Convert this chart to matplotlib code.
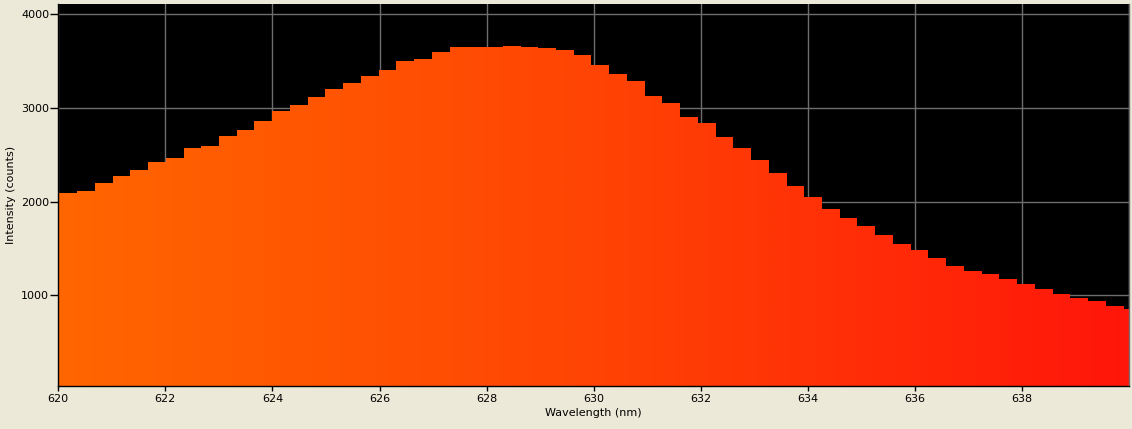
import numpy as np
import matplotlib
matplotlib.use('Agg')
import matplotlib.pyplot as plt
from matplotlib.colors import LinearSegmentedColormap

# spectrometer bins: first bin edge and bin width (nm)
first_edge = 620.02
bin_width = 0.3313

# intensity per bin (counts)
counts = [2092, 2114, 2199, 2274, 2338, 2423, 2466, 2573, 2594, 2701,
          2765, 2861, 2968, 3032, 3117, 3203, 3267, 3342, 3406, 3502,
          3523, 3598, 3651, 3651, 3651, 3662, 3651, 3641, 3619, 3566,
          3459, 3363, 3288, 3128, 3053, 2904, 2840, 2690, 2573, 2445,
          2306, 2167, 2050, 1922, 1826, 1740, 1644, 1548, 1484, 1399,
          1313, 1260, 1228, 1174, 1121, 1068, 1014, 972, 940, 886, 854]

xticks = [620, 622, 624, 626, 628, 630, 632, 634, 636, 638]
yticks = [1000, 2000, 3000, 4000]

counts = np.array(counts, dtype=float)
edges = first_edge + bin_width * np.arange(len(counts) + 1)

bg = '#ECE9D8'
grid_col = '#6E6E6E'

fig = plt.figure(figsize=(11.32, 4.29), dpi=100, facecolor=bg)
ax = fig.add_axes([58.3/1132, 43/429, (1129-58.3)/1132, 382/429])
ax.set_facecolor('black')
ax.set_xlim(620, 640)
ax.set_ylim(32, 4110)

# grid
for x in xticks + [640]:
    ax.axvline(x, color=grid_col, lw=1, zorder=1)
for y in yticks:
    ax.axhline(y, color=grid_col, lw=1, zorder=1)

# step fill, coloured with a horizontal gradient
poly = ax.fill_between(edges, np.append(counts, counts[-1]), 0, step='post',
                       color='none', lw=0, zorder=2)
cmap = LinearSegmentedColormap.from_list('spec', ['#FF6600', '#FF4404', '#FF160A'])
grad = np.linspace(0, 1, 512).reshape(1, -1)
im = ax.imshow(grad, cmap=cmap, aspect='auto', extent=(620, 640, 0, 4200),
               origin='lower', zorder=2, interpolation='bilinear')
im.set_clip_path(poly.get_paths()[0], transform=ax.transData)
ax.set_xlim(620, 640)
ax.set_ylim(32, 4110)

ax.set_xticks(xticks)
ax.set_yticks(yticks)
ax.tick_params(axis='x', direction='out', length=3.6, width=1, pad=2, labelsize=8, colors='black')
ax.tick_params(axis='y', direction='out', length=5.5, width=1, pad=1, labelsize=8, colors='black')

for s in ['top']:
    ax.spines[s].set_visible(False)
ax.spines['right'].set_color(grid_col)
ax.spines['left'].set_color('black')
ax.spines['bottom'].set_color('black')
for s in ax.spines.values():
    s.set_linewidth(1)
    s.set_zorder(5)

ax.set_xlabel('Wavelength (nm)', fontsize=8, labelpad=3)
ax.set_ylabel('Intensity (counts)', fontsize=8, labelpad=4)

fig.savefig('out.png', dpi=100, facecolor=bg)
